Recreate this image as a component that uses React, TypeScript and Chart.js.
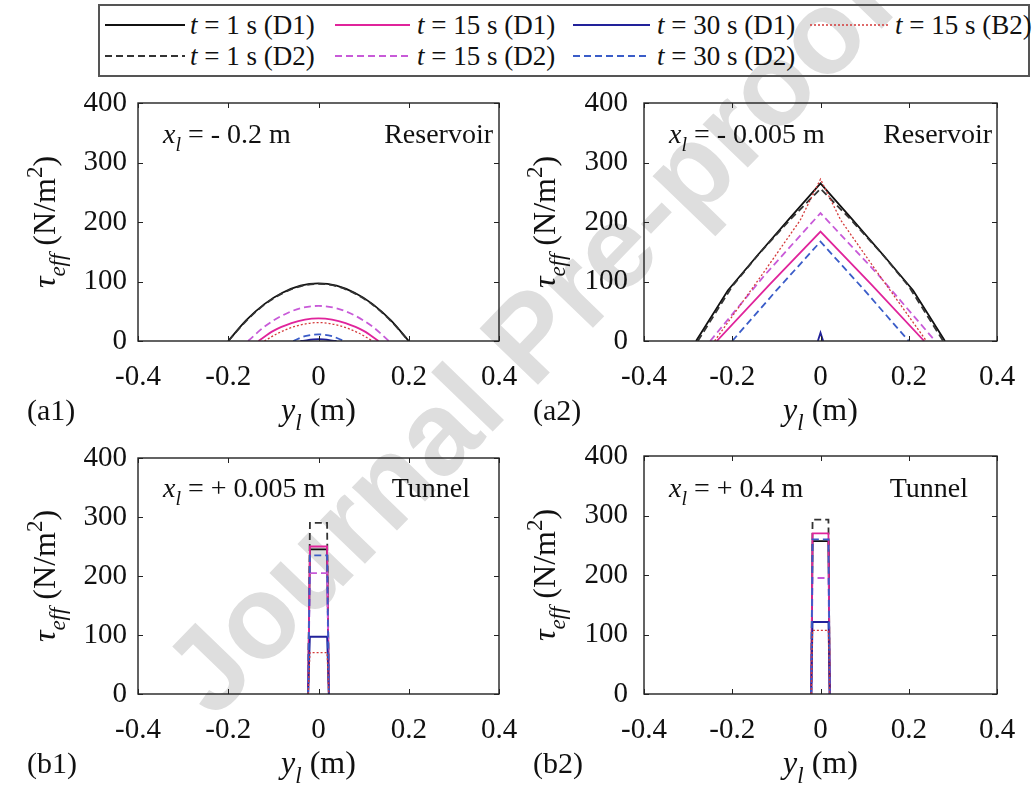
import React, { useEffect, useRef } from 'react';
import { Chart, registerables } from 'chart.js';

Chart.register(...registerables);

// ---------- data ----------
const xTicks = [-0.4, -0.2, 0, 0.2, 0.4];
const xTickLabels = ['-0.4', '-0.2', '0', '0.2', '0.4'];
const yTicks = [0, 100, 200, 300, 400];
const yTickLabels = ['0', '100', '200', '300', '400'];

// series: t = 1 s (D1), 15 s (D1), 30 s (D1), 15 s (B2), 1 s (D2), 15 s (D2), 30 s (D2)
const seriesTimes = ['1', '15', '30', '15', '1', '15', '30'];
const seriesCases = ['D1', 'D1', 'D1', 'B2', 'D2', 'D2', 'D2'];

// (a1) x_l = -0.2 m, Reservoir
const a1_x_t1D1 = [-0.2, -0.16, -0.12, -0.08, -0.04, 0, 0.04, 0.08, 0.12, 0.16, 0.2];
const a1_y_t1D1 = [0, 35, 62, 81, 93, 97, 93, 81, 62, 35, 0];
const a1_x_t15D1 = [-0.133, -0.1, -0.06, -0.03, 0, 0.03, 0.06, 0.1, 0.133];
const a1_y_t15D1 = [0, 17, 30, 36, 38, 36, 30, 17, 0];
const a1_x_t30D1 = [-0.04, 0, 0.04];
const a1_y_t30D1 = [0, 3, 0];
const a1_x_t15B2 = [-0.12, -0.09, -0.05, 0, 0.05, 0.09, 0.12];
const a1_y_t15B2 = [0, 13, 25, 31, 25, 13, 0];
const a1_x_t1D2 = [-0.2, -0.16, -0.12, -0.08, -0.04, 0, 0.04, 0.08, 0.12, 0.16, 0.2];
const a1_y_t1D2 = [0, 34, 61, 80, 92, 96, 92, 80, 61, 34, 0];
const a1_x_t15D2 = [-0.156, -0.12, -0.08, -0.04, 0, 0.04, 0.08, 0.12, 0.156];
const a1_y_t15D2 = [0, 24, 43, 55, 59, 55, 43, 24, 0];
const a1_x_t30D2 = [-0.056, -0.03, 0, 0.03, 0.056];
const a1_y_t30D2 = [0, 8, 11, 8, 0];

// (a2) x_l = -0.005 m, Reservoir
const a2_x_t1D1 = [-0.282, -0.21, -0.145, -0.07, 0, 0.07, 0.145, 0.21, 0.282];
const a2_y_t1D1 = [0, 85, 142, 206, 265, 206, 142, 85, 0];
const a2_x_t15D1 = [-0.235, -0.115, 0, 0.115, 0.235];
const a2_y_t15D1 = [0, 95, 184, 95, 0];
const a2_x_t30D1 = [-0.006, 0, 0.006];
const a2_y_t30D1 = [0, 14, 0];
const a2_x_t15B2 = [-0.24, -0.13, -0.046, 0, 0.046, 0.13, 0.24];
const a2_y_t15B2 = [0, 114, 203, 272, 203, 114, 0];
const a2_x_t1D2 = [-0.278, -0.2, -0.14, -0.07, 0, 0.07, 0.14, 0.2, 0.278];
const a2_y_t1D2 = [0, 92, 146, 203, 256, 203, 146, 92, 0];
const a2_x_t15D2 = [-0.25, -0.125, 0, 0.13, 0.26];
const a2_y_t15D2 = [0, 112, 215, 112, 0];
const a2_x_t30D2 = [-0.2, -0.1, 0, 0.1, 0.2];
const a2_y_t30D2 = [0, 85, 167, 85, 0];

// (b1) x_l = +0.005 m, Tunnel
const b1_x = [-0.023, -0.019, 0.019, 0.023];
const b1_y_t1D1 = [0, 245, 245, 0];
const b1_y_t15D1 = [0, 250, 250, 0];
const b1_y_t30D1 = [0, 97, 97, 0];
const b1_y_t15B2 = [0, 70, 70, 0];
const b1_y_t1D2 = [0, 290, 290, 0];
const b1_y_t15D2 = [0, 205, 205, 0];
const b1_y_t30D2 = [0, 235, 235, 0];

// (b2) x_l = +0.4 m, Tunnel
const b2_x = [-0.021, -0.018, 0.018, 0.021];
const b2_y_t1D1 = [0, 257, 257, 0];
const b2_y_t15D1 = [0, 270, 270, 0];
const b2_y_t30D1 = [0, 121, 121, 0];
const b2_y_t15B2 = [0, 107, 107, 0];
const b2_y_t1D2 = [0, 293, 293, 0];
const b2_y_t15D2 = [0, 195, 195, 0];
const b2_y_t30D2 = [0, 260, 260, 0];

// ---------- styles ----------
const SERIF = '"Liberation Serif", "Times New Roman", Times, "DejaVu Serif", "Noto Serif", serif';
const seriesColors = ['#111111', '#e0249b', '#22229a', '#d43a3a', '#333333', '#c85ad8', '#3a5cc8'];
const seriesDash: number[][] = [[], [], [], [2, 2], [7, 4], [7, 4], [7, 4]];
const seriesWidth = [1.8, 1.8, 1.8, 1.3, 1.8, 1.8, 1.8];
// plotting sequence (later = on top)
const seriesDrawRank = [0, 2, 4, 6, 1, 3, 5];

type Run = { t: string; it?: boolean; sub?: boolean; sup?: boolean };

type PanelDef = {
  xs: number[][];
  ys: number[][];
  smooth: boolean;
  note: Run[];
  region: string;
  label: string;
  canvas: { left: number; top: number; width: number; height: number };
  area: { left: number; top: number; right: number; bottom: number };
  tickPad: number;
  yTitleOff: number;
  noteDy: number;
  regionDx: number;
};

const panels: PanelDef[] = [
  {
    xs: [a1_x_t1D1, a1_x_t15D1, a1_x_t30D1, a1_x_t15B2, a1_x_t1D2, a1_x_t15D2, a1_x_t30D2],
    ys: [a1_y_t1D1, a1_y_t15D1, a1_y_t30D1, a1_y_t15B2, a1_y_t1D2, a1_y_t15D2, a1_y_t30D2],
    smooth: true,
    note: [{ t: 'x', it: true }, { t: 'l', it: true, sub: true }, { t: ' = - 0.2 m' }],
    region: 'Reservoir',
    label: '(a1)',
    canvas: { left: 0, top: 78, width: 519, height: 358 },
    area: { left: 138, top: 103, right: 499, bottom: 341 },
    tickPad: 11,
    yTitleOff: 83,
    noteDy: 40,
    regionDx: 6,
  },
  {
    xs: [a2_x_t1D1, a2_x_t15D1, a2_x_t30D1, a2_x_t15B2, a2_x_t1D2, a2_x_t15D2, a2_x_t30D2],
    ys: [a2_y_t1D1, a2_y_t15D1, a2_y_t30D1, a2_y_t15B2, a2_y_t1D2, a2_y_t15D2, a2_y_t30D2],
    smooth: false,
    note: [{ t: 'x', it: true }, { t: 'l', it: true, sub: true }, { t: ' = - 0.005 m' }],
    region: 'Reservoir',
    label: '(a2)',
    canvas: { left: 519, top: 78, width: 515, height: 358 },
    area: { left: 644, top: 103, right: 997, bottom: 341 },
    tickPad: 16,
    yTitleOff: 89,
    noteDy: 40,
    regionDx: 5,
  },
  {
    xs: [b1_x, b1_x, b1_x, b1_x, b1_x, b1_x, b1_x],
    ys: [b1_y_t1D1, b1_y_t15D1, b1_y_t30D1, b1_y_t15B2, b1_y_t1D2, b1_y_t15D2, b1_y_t30D2],
    smooth: false,
    note: [{ t: 'x', it: true }, { t: 'l', it: true, sub: true }, { t: ' = + 0.005 m' }],
    region: 'Tunnel',
    label: '(b1)',
    canvas: { left: 0, top: 436, width: 519, height: 360 },
    area: { left: 138, top: 458, right: 499, bottom: 694 },
    tickPad: 11,
    yTitleOff: 83,
    noteDy: 39,
    regionDx: 29,
  },
  {
    xs: [b2_x, b2_x, b2_x, b2_x, b2_x, b2_x, b2_x],
    ys: [b2_y_t1D1, b2_y_t15D1, b2_y_t30D1, b2_y_t15B2, b2_y_t1D2, b2_y_t15D2, b2_y_t30D2],
    smooth: false,
    note: [{ t: 'x', it: true }, { t: 'l', it: true, sub: true }, { t: ' = + 0.4 m' }],
    region: 'Tunnel',
    label: '(b2)',
    canvas: { left: 519, top: 436, width: 515, height: 360 },
    area: { left: 644, top: 456, right: 997, bottom: 694 },
    tickPad: 16,
    yTitleOff: 89,
    noteDy: 41,
    regionDx: 29,
  },
];

function drawRuns(ctx: CanvasRenderingContext2D, runs: Run[], x: number, y: number, size: number, align: 'left' | 'center' | 'right') {
  const font = (r: Run) => `${r.it ? 'italic ' : ''}${r.sub || r.sup ? Math.round(size * 0.72) : size}px ${SERIF}`;
  let total = 0;
  const ws = runs.map((r) => {
    ctx.font = font(r);
    const w = ctx.measureText(r.t).width;
    total += w;
    return w;
  });
  let cx = align === 'center' ? x - total / 2 : align === 'right' ? x - total : x;
  ctx.textAlign = 'left';
  ctx.textBaseline = 'alphabetic';
  runs.forEach((r, i) => {
    ctx.font = font(r);
    const dy = r.sub ? size * 0.3 : r.sup ? -size * 0.42 : 0;
    ctx.fillText(r.t, cx, y + dy);
    cx += ws[i];
  });
}

const yTitleRuns: Run[] = [
  { t: 'τ', it: true },
  { t: 'eff', it: true, sub: true },
  { t: ' (N/m' },
  { t: '2', sup: true },
  { t: ')' },
];
const xTitleRuns: Run[] = [{ t: 'y', it: true }, { t: 'l', it: true, sub: true }, { t: ' (m)' }];

function makeFramePlugin(p: PanelDef) {
  return {
    id: 'frame',
    afterDraw(chart: any) {
      const { ctx, chartArea: a, scales } = chart;
      const xs = scales.x;
      const ys = scales.y;
      ctx.save();
      ctx.strokeStyle = '#222';
      ctx.lineWidth = 1.4;
      ctx.strokeRect(a.left, a.top, a.right - a.left, a.bottom - a.top);
      ctx.lineWidth = 1;
      ctx.beginPath();
      xTicks.forEach((v) => {
        const px = Math.round(xs.getPixelForValue(v)) + 0.5;
        ctx.moveTo(px, a.bottom);
        ctx.lineTo(px, a.bottom - 5);
        ctx.moveTo(px, a.top);
        ctx.lineTo(px, a.top + 5);
      });
      yTicks.forEach((v) => {
        const py = Math.round(ys.getPixelForValue(v)) + 0.5;
        ctx.moveTo(a.left, py);
        ctx.lineTo(a.left + 5, py);
        ctx.moveTo(a.right, py);
        ctx.lineTo(a.right - 5, py);
      });
      ctx.stroke();

      ctx.fillStyle = '#111';
      drawRuns(ctx, p.note, a.left + 25, a.top + p.noteDy, 28, 'left');
      drawRuns(ctx, [{ t: p.region }], a.right - p.regionDx, a.top + p.noteDy, 28, 'right');
      drawRuns(ctx, xTitleRuns, (a.left + a.right) / 2, a.bottom + 79, 32, 'center');
      drawRuns(ctx, [{ t: p.label }], a.left - 111, a.bottom + 79, 30, 'left');
      ctx.save();
      ctx.translate(a.left - p.yTitleOff, (a.top + a.bottom) / 2);
      ctx.rotate(-Math.PI / 2);
      drawRuns(ctx, yTitleRuns, 0, 0, 32, 'center');
      ctx.restore();
      ctx.restore();
    },
  };
}

function PanelChart({ p }: { p: PanelDef }) {
  const ref = useRef<HTMLCanvasElement | null>(null);
  useEffect(() => {
    const c = ref.current;
    if (!c) return;
    const T = p.area.top - p.canvas.top;
    const R = p.canvas.left + p.canvas.width - p.area.right;
    const L = p.area.left - p.canvas.left;
    const B = p.canvas.top + p.canvas.height - p.area.bottom;
    const chart = new Chart(c, {
      type: 'line',
      data: {
        datasets: seriesTimes.map((tm, i) => ({
          label: `t = ${tm} s (${seriesCases[i]})`,
          data: p.xs[i].map((x, k) => ({ x, y: p.ys[i][k] })),
          borderColor: seriesColors[i],
          backgroundColor: seriesColors[i],
          borderWidth: seriesWidth[i],
          borderDash: seriesDash[i],
          pointRadius: 0,
          fill: false,
          tension: 0,
          order: -seriesDrawRank[i],
          cubicInterpolationMode: p.smooth ? 'monotone' : 'default',
        })),
      },
      options: {
        animation: false,
        responsive: false,
        maintainAspectRatio: false,
        events: [],
        layout: { padding: { left: 0, top: T, right: R, bottom: 0 } },
        plugins: { legend: { display: false }, tooltip: { enabled: false } },
        scales: {
          x: {
            type: 'linear',
            min: -0.4,
            max: 0.4,
            afterBuildTicks: (s: any) => {
              s.ticks = xTicks.map((v) => ({ value: v }));
            },
            ticks: {
              callback: (_v: any, idx: number) => xTickLabels[idx],
              font: { family: SERIF, size: 29 },
              color: '#111',
              padding: 19,
              maxRotation: 0,
              autoSkip: false,
            },
            grid: { display: false, drawTicks: false },
            border: { display: false },
            afterFit: (s: any) => {
              s.height = B;
              s.paddingLeft = 0;
              s.paddingRight = 0;
            },
          },
          y: {
            type: 'linear',
            min: 0,
            max: 400,
            afterBuildTicks: (s: any) => {
              s.ticks = yTicks.map((v) => ({ value: v }));
            },
            ticks: {
              callback: (_v: any, idx: number) => yTickLabels[idx],
              font: { family: SERIF, size: 29 },
              color: '#111',
              padding: p.tickPad,
              autoSkip: false,
            },
            grid: { display: false, drawTicks: false },
            border: { display: false },
            afterFit: (s: any) => {
              s.width = L;
              s.paddingTop = 0;
              s.paddingBottom = 0;
            },
          },
        },
      } as any,
      plugins: [makeFramePlugin(p)],
    });
    return () => chart.destroy();
  }, [p]);
  return (
    <canvas
      ref={ref}
      width={p.canvas.width}
      height={p.canvas.height}
      style={{
        position: 'absolute',
        left: p.canvas.left,
        top: p.canvas.top,
        width: p.canvas.width,
        height: p.canvas.height,
        zIndex: 1,
      }}
    />
  );
}

const legendLineX = [
  [105, 185],
  [335, 410],
  [573, 650],
  [810, 890],
];
const legendTextX = [190, 417, 657, 895];
const legendRowY = [25, 56];
const legendSlots = [
  [0, 0],
  [1, 0],
  [2, 0],
  [3, 0],
  [0, 1],
  [1, 1],
  [2, 1],
];

function Legend() {
  return (
    <svg width={1034} height={80} style={{ position: 'absolute', left: 0, top: 0, zIndex: 1 }}>
      <rect x={99} y={5} width={930} height={71} fill="none" stroke="#555" strokeWidth={2} />
      {seriesTimes.map((tm, i) => {
        const [col, row] = legendSlots[i];
        const y = legendRowY[row];
        return (
          <g key={i}>
            <line
              x1={legendLineX[col][0]}
              x2={legendLineX[col][1]}
              y1={y}
              y2={y}
              stroke={seriesColors[i]}
              strokeWidth={seriesWidth[i]}
              strokeDasharray={seriesDash[i].length ? seriesDash[i].join(' ') : undefined}
            />
            <text x={legendTextX[col]} y={y + 9} style={{ fontFamily: SERIF, fontSize: 27 }} fill="#111">
              <tspan fontStyle="italic">t</tspan>
              {` = ${tm} s (${seriesCases[i]})`}
            </text>
          </g>
        );
      })}
    </svg>
  );
}

export default function App() {
  return (
    <div
      style={{
        position: 'fixed',
        left: 0,
        top: 0,
        width: 1034,
        height: 796,
        background: '#fff',
        overflow: 'hidden',
      }}
    >
      <div
        style={{
          position: 'absolute',
          left: 528,
          top: 336,
          transform: 'translate(-50%, -50%) rotate(-46deg)',
          whiteSpace: 'nowrap',
          fontFamily: '"Liberation Sans", Arial, sans-serif',
          fontWeight: 'bold',
          fontSize: 118,
          color: '#dedede',
          zIndex: 0,
          lineHeight: 1,
        }}
      >
        Journal Pre-proof
      </div>
      <Legend />
      {panels.map((p, i) => (
        <PanelChart key={i} p={p} />
      ))}
    </div>
  );
}
